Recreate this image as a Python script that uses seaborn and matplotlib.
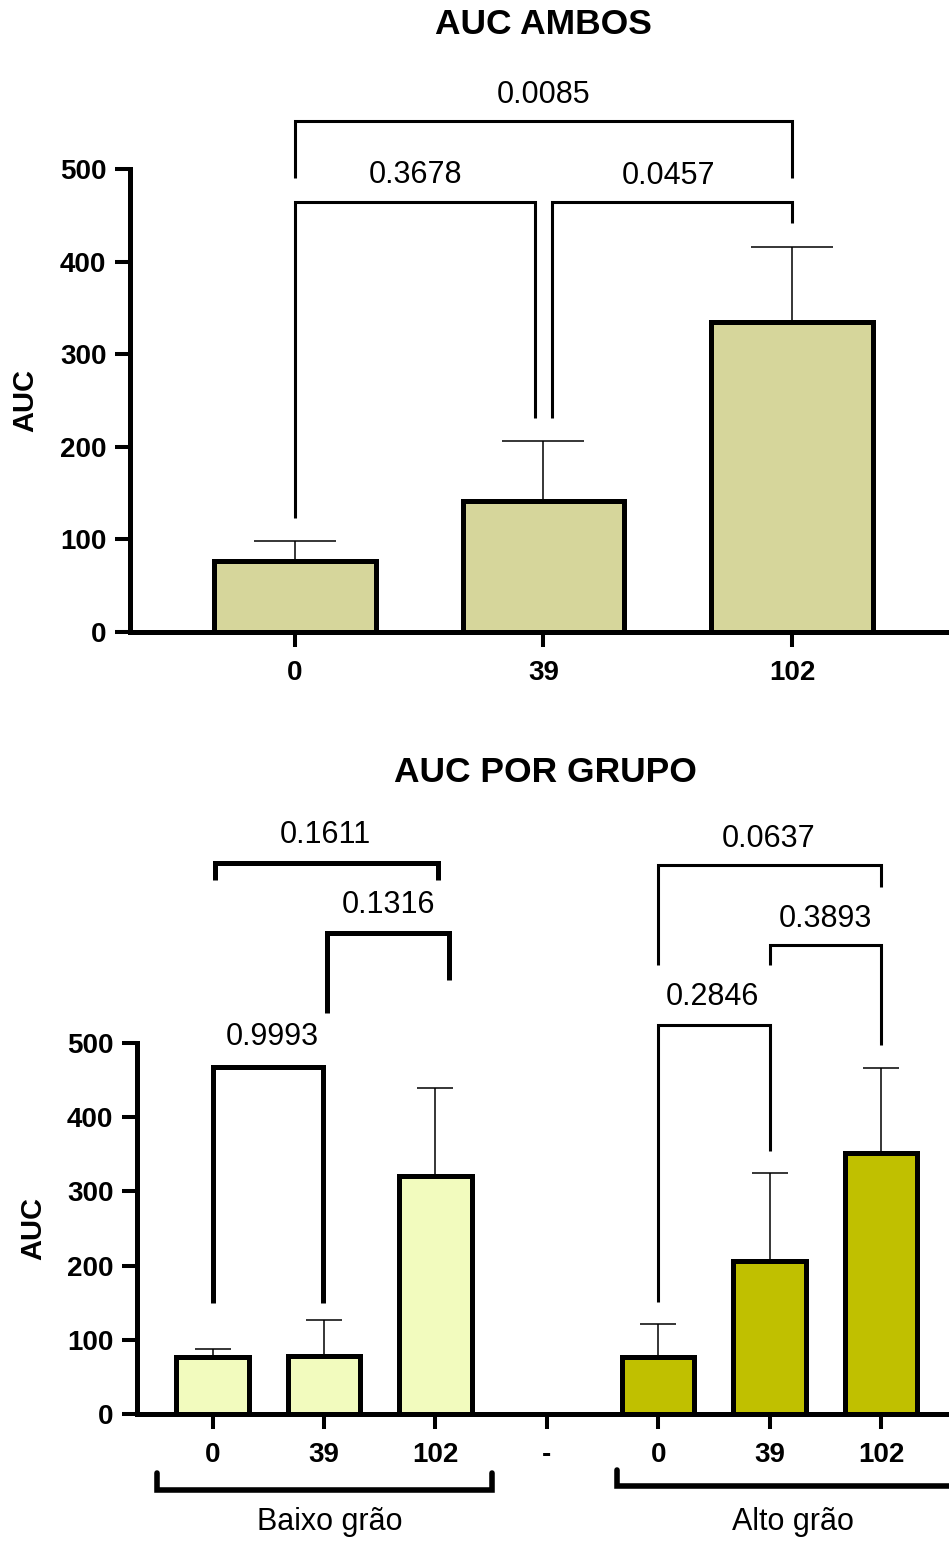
import numpy as np
import pandas as pd
import matplotlib
matplotlib.use("Agg")
import matplotlib.pyplot as plt
import seaborn as sns

# ---- data ----
dias = ["0", "39", "102"]
auc_ambos = [77, 141, 335]
err_ambos = [21, 65, 81]

auc_baixo = [77, 78, 321]
err_baixo = [11, 49, 118]
auc_alto = [77, 206, 352]
err_alto = [44, 119, 114]

p_ambos = ["0.3678", "0.0457", "0.0085"]
p_baixo = ["0.9993", "0.1316", "0.1611"]
p_alto = ["0.2846", "0.3893", "0.0637"]

grupos = ["Baixo grão", "Alto grão"]

# ---- style ----
sns.set_style("ticks")
plt.rcParams["font.family"] = ["Liberation Sans", "DejaVu Sans"]
plt.rcParams.update({
    "text.color": "black",
    "axes.labelcolor": "black",
    "axes.edgecolor": "black",
    "xtick.color": "black",
    "ytick.color": "black",
})

COR_AMBOS = "#D6D69B"
COR_BAIXO = "#F2FBBE"
COR_ALTO = "#C0C000"
EDGE_LW = 3.6
SPINE_LW = 3.6

fig = plt.figure(figsize=(9.49, 15.46), dpi=100)
W, H = 949, 1546


def axes_px(left, right, top, bottom):
    return fig.add_axes([left / W, 1 - bottom / H, (right - left) / W, (bottom - top) / H])


def style_axes(ax):
    sns.despine(ax=ax)
    for s in ("left", "bottom"):
        ax.spines[s].set_linewidth(SPINE_LW)
        ax.spines[s].set_color("black")
        ax.spines[s].set_capstyle("projecting")
    ax.tick_params(axis="both", direction="out", length=11, width=2.9,
                   labelsize=20, color="black", labelcolor="black", pad=6)
    ax.tick_params(axis="x", pad=9)
    for lab in ax.get_xticklabels() + ax.get_yticklabels():
        lab.set_fontweight("bold")
    ax.set_ylim(0, 500)
    ax.set_yticks([0, 100, 200, 300, 400, 500])
    ax.set_xlabel("")
    ax.set_ylabel("AUC", fontsize=21, fontweight="bold", labelpad=14, color="black")


def bracket(ax, x1, x2, h, y1, y2, label, tx, ty, lw):
    ax.plot([x1, x1, x2, x2], [y1, h, h, y2], color="black", lw=lw,
            solid_joinstyle="miter", solid_capstyle="butt", clip_on=False, zorder=5)
    ax.text(tx, ty, label, ha="center", va="baseline", fontsize=22,
            color="black", clip_on=False)


# ---------------- top panel: both groups ----------------
ax1 = axes_px(130, 949, 169, 632)
df1 = pd.DataFrame({"dia": dias, "auc": auc_ambos})
sns.barplot(data=df1, x="dia", y="auc", order=dias, color=COR_AMBOS, saturation=1,
            width=0.65, edgecolor="black", linewidth=EDGE_LW, errorbar=None, ax=ax1)
x1 = np.arange(len(dias))
ax1.errorbar(x1, auc_ambos, yerr=[np.zeros(len(dias)), err_ambos], fmt="none",
             ecolor="black", elinewidth=1.1, capsize=29.5, capthick=1.1, zorder=1)
ax1.set_xlim(-0.664, 2.632)
style_axes(ax1)
ax1.yaxis.labelpad = 15

bracket(ax1, 0, 0.966, 464, 123, 231, p_ambos[0], 0.483, 485, 2.2)
bracket(ax1, 1.034, 2, 464, 231, 442, p_ambos[1], 1.505, 484, 2.2)
bracket(ax1, 0, 2, 552, 490, 490, p_ambos[2], 1.0, 571, 2.2)

fig.text(543 / W, 1 - 24 / H, "AUC AMBOS", ha="center", va="center",
         fontsize=25.5, fontweight="bold", color="black")

# ---------------- bottom panel: by group ----------------
ax2 = axes_px(137, 949, 1043, 1414)
chaves = ["B0", "B39", "B102", "-", "A0", "A39", "A102"]
df2 = pd.DataFrame({
    "chave": ["B" + d for d in dias] + ["A" + d for d in dias],
    "auc": auc_baixo + auc_alto,
    "grupo": [grupos[0]] * 3 + [grupos[1]] * 3,
})
sns.barplot(data=df2, x="chave", y="auc", hue="grupo", order=chaves,
            palette={grupos[0]: COR_BAIXO, grupos[1]: COR_ALTO}, saturation=1,
            dodge=False, width=0.65, edgecolor="black", linewidth=EDGE_LW,
            errorbar=None, legend=False, ax=ax2)
xb = np.array([0, 1, 2])
xa = np.array([4, 5, 6])
ax2.errorbar(xb, auc_baixo, yerr=[np.zeros(3), err_baixo], fmt="none",
             ecolor="black", elinewidth=1.1, capsize=13, capthick=1.1, zorder=1)
ax2.errorbar(xa, auc_alto, yerr=[np.zeros(3), err_alto], fmt="none",
             ecolor="black", elinewidth=1.1, capsize=13, capthick=1.1, zorder=1)
ax2.set_xlim(-0.678, 6.61)
ax2.set_xticks(range(7))
ax2.set_xticklabels(dias + ["-"] + dias)
style_axes(ax2)

# comparisons within "Baixo grão"
bracket(ax2, 0.0, 0.99, 468, 150, 150, p_baixo[0], 0.534, 497, 3.6)
bracket(ax2, 1.03, 2.12, 648, 540, 585, p_baixo[1], 1.575, 675, 3.6)
bracket(ax2, 0.02, 2.02, 743, 720, 720, p_baixo[2], 1.01, 770, 3.6)
# comparisons within "Alto grão"
bracket(ax2, 4.0, 5.0, 524, 151, 354, p_alto[0], 4.49, 551, 2.2)
bracket(ax2, 5.0, 6.0, 632, 605, 497, p_alto[1], 5.50, 656, 2.2)
bracket(ax2, 4.0, 6.0, 740, 605, 710, p_alto[2], 4.99, 764, 2.2)

# group brackets under the x axis
ax2.plot([-0.50, -0.50, 2.51, 2.51], [-80, -102, -102, -80], color="black", lw=4,
         solid_joinstyle="miter", clip_on=False)
ax2.plot([3.63, 3.63, 7.2, 7.2], [-75, -97, -97, -75], color="black", lw=4,
         solid_joinstyle="miter", clip_on=False)
ax2.text(1.05, -156, grupos[0], ha="center", va="baseline", fontsize=22,
         color="black", clip_on=False)
ax2.text(5.21, -156, grupos[1], ha="center", va="baseline", fontsize=22,
         color="black", clip_on=False)

fig.text(545 / W, 1 - 773 / H, "AUC POR GRUPO", ha="center", va="center",
         fontsize=25.5, fontweight="bold", color="black")

fig.savefig("out.png", dpi=100, facecolor="white")
